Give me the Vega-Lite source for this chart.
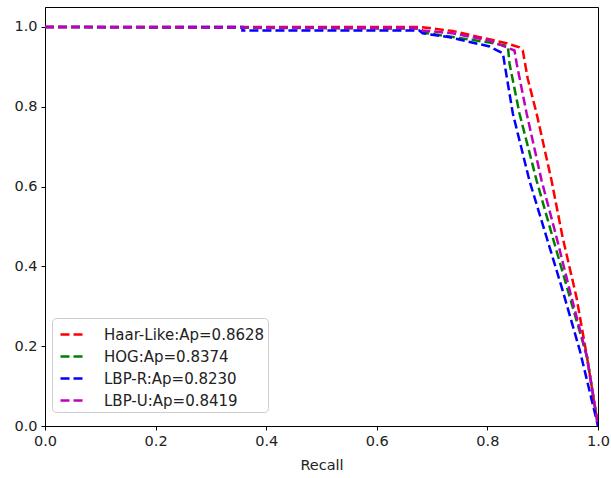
{
  "$schema": "https://vega.github.io/schema/vega-lite/v6.json",
  "autosize": "none",
  "width": 553,
  "height": 419,
  "padding": {"left": 45, "top": 7, "right": 13, "bottom": 52},
  "background": "white",
  "config": {
    "font": "DejaVu Sans",
    "view": {"stroke": "black", "strokeWidth": 1},
    "axis": {"grid": false, "domainColor": "black", "tickColor": "black", "labelColor": "#222222", "titleColor": "#222222", "labelFontSize": 14.5, "titleFontSize": 14.5, "titleFontWeight": "normal", "tickSize": 4, "labelPadding": 4, "labelFlush": false, "labelOverlap": false}
  },
  "data": {"values": [
    {"s": "Haar-Like:Ap=0.8628", "i": 0, "r": 0, "p": 1},
    {"s": "Haar-Like:Ap=0.8628", "i": 1, "r": 0.677, "p": 1},
    {"s": "Haar-Like:Ap=0.8628", "i": 2, "r": 0.737, "p": 0.99},
    {"s": "Haar-Like:Ap=0.8628", "i": 3, "r": 0.835, "p": 0.959},
    {"s": "Haar-Like:Ap=0.8628", "i": 4, "r": 0.858, "p": 0.949},
    {"s": "Haar-Like:Ap=0.8628", "i": 5, "r": 0.864, "p": 0.941},
    {"s": "Haar-Like:Ap=0.8628", "i": 6, "r": 0.873, "p": 0.87},
    {"s": "Haar-Like:Ap=0.8628", "i": 7, "r": 0.889, "p": 0.783},
    {"s": "Haar-Like:Ap=0.8628", "i": 8, "r": 0.916, "p": 0.615},
    {"s": "Haar-Like:Ap=0.8628", "i": 9, "r": 0.936, "p": 0.473},
    {"s": "Haar-Like:Ap=0.8628", "i": 10, "r": 0.961, "p": 0.323},
    {"s": "Haar-Like:Ap=0.8628", "i": 11, "r": 0.98, "p": 0.174},
    {"s": "Haar-Like:Ap=0.8628", "i": 12, "r": 1, "p": 0},
    {"s": "HOG:Ap=0.8374", "i": 0, "r": 0, "p": 1},
    {"s": "HOG:Ap=0.8374", "i": 1, "r": 0.677, "p": 0.996},
    {"s": "HOG:Ap=0.8374", "i": 2, "r": 0.683, "p": 0.986},
    {"s": "HOG:Ap=0.8374", "i": 3, "r": 0.804, "p": 0.961},
    {"s": "HOG:Ap=0.8374", "i": 4, "r": 0.837, "p": 0.952},
    {"s": "HOG:Ap=0.8374", "i": 5, "r": 0.84, "p": 0.908},
    {"s": "HOG:Ap=0.8374", "i": 6, "r": 0.858, "p": 0.783},
    {"s": "HOG:Ap=0.8374", "i": 7, "r": 0.889, "p": 0.615},
    {"s": "HOG:Ap=0.8374", "i": 8, "r": 0.918, "p": 0.473},
    {"s": "HOG:Ap=0.8374", "i": 9, "r": 0.949, "p": 0.323},
    {"s": "HOG:Ap=0.8374", "i": 10, "r": 0.98, "p": 0.174},
    {"s": "HOG:Ap=0.8374", "i": 11, "r": 1, "p": 0},
    {"s": "LBP-R:Ap=0.8230", "i": 0, "r": 0, "p": 1},
    {"s": "LBP-R:Ap=0.8230", "i": 1, "r": 0.357, "p": 1},
    {"s": "LBP-R:Ap=0.8230", "i": 2, "r": 0.357, "p": 0.991},
    {"s": "LBP-R:Ap=0.8230", "i": 3, "r": 0.677, "p": 0.991},
    {"s": "LBP-R:Ap=0.8230", "i": 4, "r": 0.683, "p": 0.984},
    {"s": "LBP-R:Ap=0.8230", "i": 5, "r": 0.732, "p": 0.974},
    {"s": "LBP-R:Ap=0.8230", "i": 6, "r": 0.804, "p": 0.951},
    {"s": "LBP-R:Ap=0.8230", "i": 7, "r": 0.828, "p": 0.934},
    {"s": "LBP-R:Ap=0.8230", "i": 8, "r": 0.831, "p": 0.908},
    {"s": "LBP-R:Ap=0.8230", "i": 9, "r": 0.846, "p": 0.783},
    {"s": "LBP-R:Ap=0.8230", "i": 10, "r": 0.876, "p": 0.615},
    {"s": "LBP-R:Ap=0.8230", "i": 11, "r": 0.907, "p": 0.473},
    {"s": "LBP-R:Ap=0.8230", "i": 12, "r": 0.936, "p": 0.34},
    {"s": "LBP-R:Ap=0.8230", "i": 13, "r": 0.967, "p": 0.19},
    {"s": "LBP-R:Ap=0.8230", "i": 14, "r": 1, "p": 0},
    {"s": "LBP-U:Ap=0.8419", "i": 0, "r": 0, "p": 1},
    {"s": "LBP-U:Ap=0.8419", "i": 1, "r": 0.677, "p": 0.997},
    {"s": "LBP-U:Ap=0.8419", "i": 2, "r": 0.683, "p": 0.991},
    {"s": "LBP-U:Ap=0.8419", "i": 3, "r": 0.737, "p": 0.984},
    {"s": "LBP-U:Ap=0.8419", "i": 4, "r": 0.804, "p": 0.966},
    {"s": "LBP-U:Ap=0.8419", "i": 5, "r": 0.849, "p": 0.941},
    {"s": "LBP-U:Ap=0.8419", "i": 6, "r": 0.853, "p": 0.908},
    {"s": "LBP-U:Ap=0.8419", "i": 7, "r": 0.871, "p": 0.783},
    {"s": "LBP-U:Ap=0.8419", "i": 8, "r": 0.898, "p": 0.615},
    {"s": "LBP-U:Ap=0.8419", "i": 9, "r": 0.925, "p": 0.473},
    {"s": "LBP-U:Ap=0.8419", "i": 10, "r": 0.952, "p": 0.323},
    {"s": "LBP-U:Ap=0.8419", "i": 11, "r": 0.98, "p": 0.174},
    {"s": "LBP-U:Ap=0.8419", "i": 12, "r": 1, "p": 0}
  ]},
  "mark": {"type": "line", "strokeWidth": 2.5, "strokeDash": [9, 4], "clip": true},
  "encoding": {
    "x": {"field": "r", "type": "quantitative", "title": "Recall", "scale": {"domain": [0, 1], "nice": false, "zero": false}, "axis": {"values": [0, 0.2, 0.4, 0.6, 0.8, 1.0], "format": ".1f", "titlePadding": 11}},
    "y": {"field": "p", "type": "quantitative", "title": null, "scale": {"domain": [0, 1.05], "nice": false}, "axis": {"values": [0, 0.2, 0.4, 0.6, 0.8, 1.0], "format": ".1f"}},
    "color": {"field": "s", "type": "nominal", "scale": {"domain": ["Haar-Like:Ap=0.8628", "HOG:Ap=0.8374", "LBP-R:Ap=0.8230", "LBP-U:Ap=0.8419"], "range": ["#ff0000", "#008000", "#0000ff", "#bf00bf"]},
      "legend": {"title": null, "orient": "none", "legendX": 7, "legendY": 311, "symbolType": "stroke", "symbolSize": 576, "symbolOffset": 4, "symbolStrokeWidth": 2.5, "symbolDash": [9, 4], "labelFontSize": 15, "labelColor": "#222222", "labelOffset": 18, "labelLimit": 400, "rowPadding": -0.7, "padding": 3, "fillColor": "rgba(255,255,255,0.8)", "strokeColor": "#cccccc", "cornerRadius": 4}},
    "order": {"field": "i", "type": "quantitative"}
  }
}
